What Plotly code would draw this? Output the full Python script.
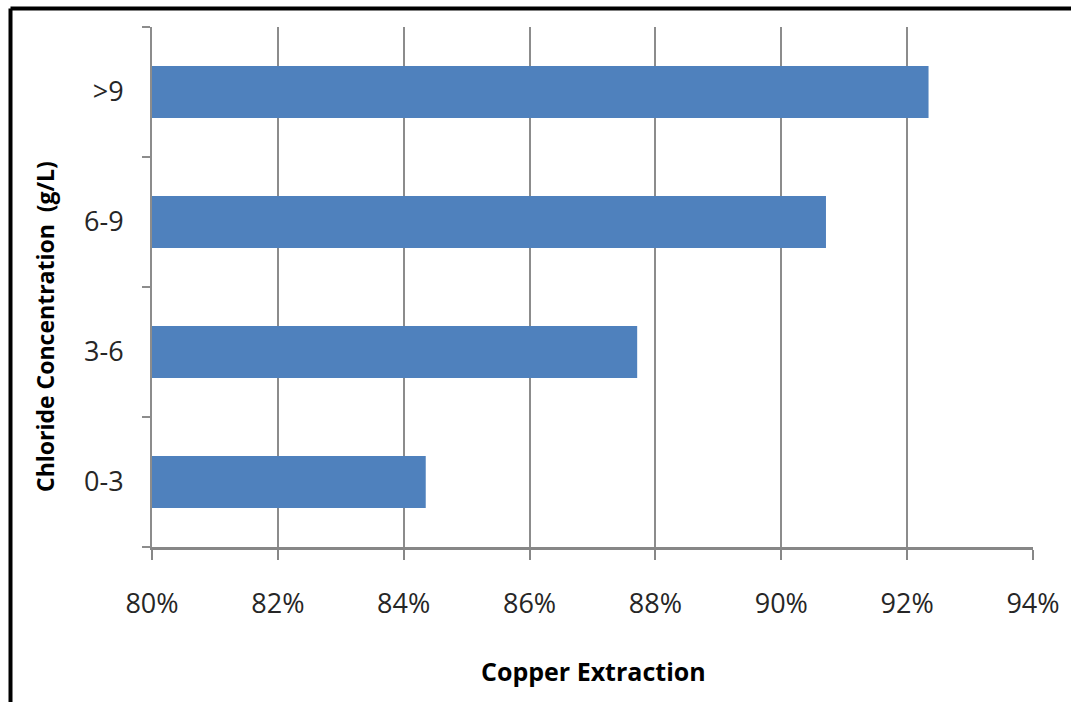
import plotly.graph_objects as go

categories = ["0-3", "3-6", "6-9", ">9"]
extraction = [0.8435, 0.8771, 0.9071, 0.9234]
x_ticks = [0.80, 0.82, 0.84, 0.86, 0.88, 0.90, 0.92, 0.94]
x_tick_labels = ["80%", "82%", "84%", "86%", "88%", "90%", "92%", "94%"]

W, H = 1071, 702
L, R, T, B = 152, 38, 27, 155
pw, ph = W - L - R, H - T - B

def px_x(px):
    return (px - L) / pw

def px_y(py):
    return (H - B - py) / ph

fig = go.Figure()
fig.add_trace(go.Bar(
    y=categories, x=extraction, orientation="h",
    marker=dict(color="#4F81BD", line=dict(width=0)),
    base=0,
))

font_family = "Open Sans, Noto Sans, sans-serif"

fig.update_layout(
    width=W, height=H,
    margin=dict(l=L, r=R, t=T, b=B, pad=0),
    paper_bgcolor="white", plot_bgcolor="white",
    bargap=0.6,
    showlegend=False,
    font=dict(family=font_family, size=27, color="#262626"),
    xaxis=dict(
        range=[0.80, 0.94],
        tickvals=x_ticks, ticktext=x_tick_labels,
        showgrid=True, gridcolor="#8c8c8c", gridwidth=2,
        showline=True, linecolor="#878787", linewidth=3,
        ticks="outside", ticklen=10, tickcolor="#878787", tickwidth=2,
        ticklabelstandoff=21,
        zeroline=False,
        tickfont=dict(size=27, color="#262626"),
    ),
    yaxis=dict(
        range=[-0.5, 3.5],
        type="category",
        categoryorder="array", categoryarray=categories,
        showgrid=False,
        showline=True, linecolor="#8c8c8c", linewidth=2,
        ticks="outside", ticklen=8, tickcolor="#8c8c8c", tickwidth=2,
        tickson="boundaries",
        ticklabelstandoff=21,
        tickfont=dict(size=27, color="#262626"),
    ),
)

# x-axis title
fig.add_annotation(
    text="<b>Copper Extraction</b>", xref="paper", yref="paper",
    x=px_x(593), y=px_y(671), showarrow=False,
    font=dict(family=font_family, size=25, color="black"),
    xanchor="center", yanchor="middle",
)
# y-axis title
fig.add_annotation(
    text="<b>Chloride Concentration  (g/L)</b>", xref="paper", yref="paper",
    x=px_x(45), y=px_y(327), showarrow=False, textangle=-90,
    font=dict(family=font_family, size=23, color="black"),
    xanchor="center", yanchor="middle",
)

# outer frame (top and left edges visible)
fig.add_shape(type="line", xref="paper", yref="paper",
              x0=px_x(10.5), x1=px_x(1075), y0=px_y(8.5), y1=px_y(8.5),
              line=dict(color="black", width=4))
fig.add_shape(type="line", xref="paper", yref="paper",
              x0=px_x(10.5), x1=px_x(10.5), y0=px_y(8.5), y1=px_y(710),
              line=dict(color="black", width=4))

fig.write_html("out.html")
